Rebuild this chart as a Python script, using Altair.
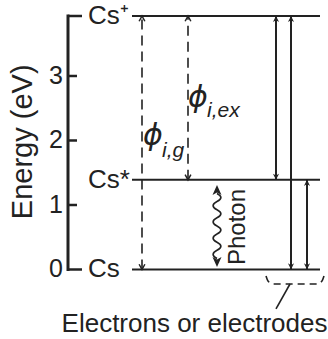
import altair as alt
import pandas as pd

# ---------------- data ----------------
tick_values = [0, 1, 2, 3]
tick_labels = ["0", "1", "2", "3"]

level_names = ["Cs", "Cs*", "Cs\u207a"]
level_energy = [0.0, 1.39, 3.93]

# vertical arrows (horizontal position in diagram units, energies in eV)
arrow_x = [142, 188, 276, 291, 307]
arrow_from = [0.0, 1.39, 1.39, 0.0, 0.0]
arrow_to = [3.93, 3.93, 3.93, 3.93, 1.39]
arrow_dashed = [True, True, False, False, False]

# photon (wavy double arrow)
photon_x = 217
photon_from = 0.04
photon_to = 1.31

# ---------------- layout (diagram units) ----------------
AX_X = 68
LEVEL_X0, LEVEL_X1 = 132, 320
LABEL_X = 88
INK = "#222222"
FONT = "Liberation Sans"

xs = alt.Scale(domain=[0, 328], nice=False, zero=False)
ys = alt.Scale(domain=[-1.0775, 4.178], nice=False, zero=False)


def X(f="x"):
    return alt.X(f"{f}:Q", scale=xs, axis=None)


def Y(f="y"):
    return alt.Y(f"{f}:Q", scale=ys, axis=None)


layers = []

# axis spine
spine = pd.DataFrame({"x": [AX_X], "y": [0.0], "y2": [level_energy[-1]]})
layers.append(alt.Chart(spine).mark_rule(color=INK, strokeWidth=3, strokeCap="square").encode(
    x=X(), y=Y(), y2="y2:Q"))

# ticks (inner side)
tick_len = [82 if v == 0 else 77 for v in tick_values] + [82]
ticks = pd.DataFrame({"x": [AX_X] * (len(tick_values) + 1), "x2": tick_len,
                      "y": tick_values + [level_energy[-1]]})
layers.append(alt.Chart(ticks).mark_rule(color=INK, strokeWidth=2.5).encode(
    x=X(), x2="x2:Q", y=Y()))

# tick labels
tl = pd.DataFrame({"x": [63] * 4, "y": tick_values, "t": tick_labels})
layers.append(alt.Chart(tl).mark_text(align="right", baseline="middle", font=FONT,
                                      fontSize=25, color=INK).encode(x=X(), y=Y(), text="t:N"))

# axis title
title = pd.DataFrame({"x": [23], "y": [1.98], "t": ["Energy (eV)"]})
layers.append(alt.Chart(title).mark_text(angle=270, align="center", baseline="middle", font=FONT,
                                         fontSize=29, color=INK).encode(x=X(), y=Y(), text="t:N"))

# energy levels
lv = pd.DataFrame({"x": [LEVEL_X0] * 3, "x2": [LEVEL_X1] * 3, "y": level_energy})
layers.append(alt.Chart(lv).mark_rule(color=INK, strokeWidth=2).encode(x=X(), x2="x2:Q", y=Y()))

lvl = pd.DataFrame({"x": [LABEL_X] * 3, "y": level_energy, "t": level_names})
layers.append(alt.Chart(lvl).mark_text(align="left", baseline="middle", font=FONT,
                                       fontSize=26, color=INK).encode(x=X(), y=Y(), text="t:N"))

# arrows
ar = pd.DataFrame({"x": arrow_x, "y": arrow_from, "y2": arrow_to, "d": arrow_dashed})
layers.append(alt.Chart(ar[ar.d]).mark_rule(color=INK, strokeWidth=1.6, strokeDash=[10, 6]).encode(
    x=X(), y=Y(), y2="y2:Q"))
layers.append(alt.Chart(ar[~ar.d]).mark_rule(color=INK, strokeWidth=2).encode(
    x=X(), y=Y(), y2="y2:Q"))

UP_OPEN = "M-0.55,1 L0,0 L0.55,1"
DOWN_OPEN = "M-0.55,-1 L0,0 L0.55,-1"
UP_FILL = "M0,0 L-0.5,1 L0,0.7 L0.5,1 Z"
DOWN_FILL = "M0,0 L-0.5,-1 L0,-0.7 L0.5,-1 Z"

ups = pd.DataFrame({"x": arrow_x, "y": arrow_to, "d": arrow_dashed})
downs = pd.DataFrame({"x": arrow_x, "y": arrow_from, "d": arrow_dashed})
layers.append(alt.Chart(ups[ups.d]).mark_point(shape=UP_OPEN, size=110, filled=False, color=INK,
                                               strokeWidth=1.5, opacity=1).encode(x=X(), y=Y()))
layers.append(alt.Chart(downs[downs.d]).mark_point(shape=DOWN_OPEN, size=110, filled=False, color=INK,
                                                   strokeWidth=1.5, opacity=1).encode(x=X(), y=Y()))
layers.append(alt.Chart(ups[~ups.d]).mark_point(shape=UP_FILL, size=150, filled=True, color=INK,
                                                opacity=1).encode(x=X(), y=Y()))
layers.append(alt.Chart(downs[~downs.d]).mark_point(shape=DOWN_FILL, size=150, filled=True, color=INK,
                                                    opacity=1).encode(x=X(), y=Y()))

# photon
WAVE = ("M0,-1 Q0.24,-0.875 0,-0.75 Q-0.24,-0.625 0,-0.5 Q0.24,-0.375 0,-0.25 "
        "Q-0.24,-0.125 0,0 Q0.24,0.125 0,0.25 Q-0.24,0.375 0,0.5 Q0.24,0.625 0,0.75 "
        "Q-0.24,0.875 0,1")
ph = pd.DataFrame({"x": [photon_x], "y": [(photon_from + photon_to) / 2]})
layers.append(alt.Chart(ph).mark_point(shape=WAVE, size=4225, filled=False, color=INK,
                                       strokeWidth=1.6, opacity=1).encode(x=X(), y=Y()))
ph_up = pd.DataFrame({"x": [photon_x], "y": [photon_to]})
ph_dn = pd.DataFrame({"x": [photon_x], "y": [photon_from]})
layers.append(alt.Chart(ph_up).mark_point(shape="M0,0 L-0.45,1 L0,0.75 L0.45,1 Z", size=400,
                                          filled=True, color=INK, opacity=1).encode(x=X(), y=Y()))
layers.append(alt.Chart(ph_dn).mark_point(shape="M0,0 L-0.45,-1 L0,-0.75 L0.45,-1 Z", size=400,
                                          filled=True, color=INK, opacity=1).encode(x=X(), y=Y()))
pht = pd.DataFrame({"x": [238], "y": [0.659], "t": ["Photon"]})
layers.append(alt.Chart(pht).mark_text(angle=270, align="center", baseline="middle", font=FONT,
                                       fontSize=24, color=INK).encode(x=X(), y=Y(), text="t:N"))

# phi labels
phi = pd.DataFrame({"x": [153, 198], "y": [2.07, 2.66], "t": ["\u03d5", "\u03d5"]})
layers.append(alt.Chart(phi).mark_text(align="center", baseline="middle", font="DejaVu Sans",
                                       fontStyle="italic", fontSize=30, color=INK).encode(
    x=X(), y=Y(), text="t:N"))
sub = pd.DataFrame({"x": [162, 207], "y": [1.84, 2.457], "t": ["i,g", "i,ex"]})
layers.append(alt.Chart(sub).mark_text(align="left", baseline="middle", font=FONT,
                                       fontStyle="italic", fontSize=21, color=INK).encode(
    x=X(), y=Y(), text="t:N"))

# brace under the right-hand arrows
brace_x = [266, 268, 273, 317, 322, 324]
brace_y = [-0.101, -0.178, -0.225, -0.225, -0.178, -0.101]
br = pd.DataFrame({"x": brace_x, "y": brace_y, "o": list(range(len(brace_x)))})
layers.append(alt.Chart(br).mark_line(color=INK, strokeWidth=1.6, strokeDash=[7, 5],
                                      interpolate="monotone").encode(x=X(), y=Y(), order="o:Q"))
ptr = pd.DataFrame({"x": [290], "x2": [276], "y": [-0.225], "y2": [-0.612]})
layers.append(alt.Chart(ptr).mark_rule(color=INK, strokeWidth=1.6).encode(
    x=X(), x2="x2:Q", y=Y(), y2="y2:Q"))

el = pd.DataFrame({"x": [194.5], "y": [-0.969], "t": ["Electrons or electrodes"]})
layers.append(alt.Chart(el).mark_text(align="center", baseline="alphabetic", font=FONT,
                                      fontSize=26, color=INK).encode(x=X(), y=Y(), text="t:N"))

chart = alt.layer(*layers).properties(
    width=328, height=339, padding=0, autosize=alt.AutoSizeParams(type="none"),
    background="white"
).configure_view(stroke=None)

chart.save("out.html", embed_options={"renderer": "svg", "actions": False})
